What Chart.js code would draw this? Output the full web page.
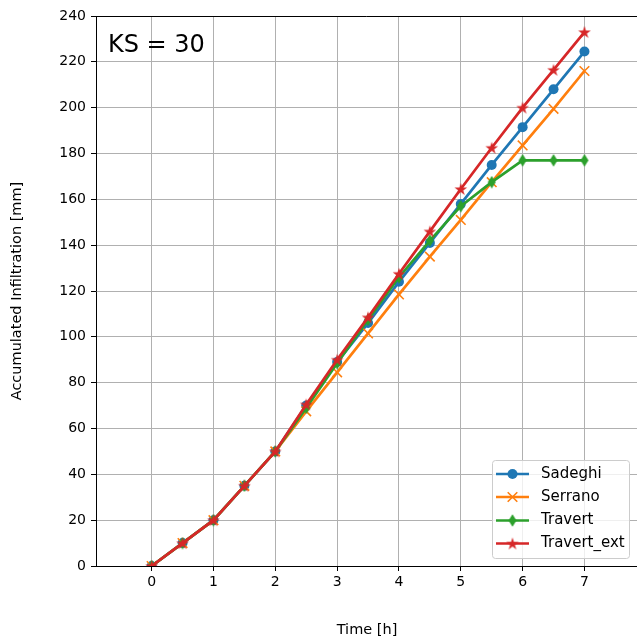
<!DOCTYPE html>
<html>
<head>
<meta charset="utf-8">
<script src="https://cdn.jsdelivr.net/npm/chart.js@4.4.1/dist/chart.umd.min.js"></script>
<style>
  html, body { margin: 0; padding: 0; background: #fff; }
  #c { display: block; }
</style>
</head>
<body>
<canvas id="c" width="637" height="639" style="width:637px;height:639px"></canvas>
<script>
// Datos
const timeH = [0, 0.5, 1, 1.5, 2, 2.5, 3, 3.5, 4, 4.5, 5, 5.5, 6, 6.5, 7];
const sadeghi = [0, 10, 20, 35, 50, 70, 89, 106, 124, 141, 158, 175, 191.5, 208, 224.5];
const serrano = [0, 10, 20, 35, 50, 67.5, 84.5, 101.5, 118.5, 135, 151, 167.5, 183.5, 199.5, 216];
const travert = [0, 10, 20, 35, 50, 69, 88.5, 107.5, 126, 142, 157, 167.5, 177, 177, 177];
const travertExt = [0, 10, 20, 35, 50, 70.5, 90, 108.5, 127.5, 146, 164.5, 182.5, 200, 216.5, 233];
const xTicks = [0, 1, 2, 3, 4, 5, 6, 7];
const seriesNames = ['Sadeghi', 'Serrano', 'Travert', 'Travert_ext'];

const FONT = '"DejaVu Sans", sans-serif';
const colors = ['#1f77b4', '#ff7f0e', '#2ca02c', '#d62728'];

// marcadores propios (estrella y diamante fino)
function starCanvas(color) {
  const c = document.createElement('canvas');
  c.width = 14; c.height = 14;
  const g = c.getContext('2d');
  const R = 6.6, r = R * 0.382;
  g.beginPath();
  for (let i = 0; i < 10; i++) {
    const a = -Math.PI / 2 + i * Math.PI / 5;
    const rr = i % 2 === 0 ? R : r;
    g.lineTo(7 + rr * Math.cos(a), 7.6 + rr * Math.sin(a));
  }
  g.closePath();
  g.fillStyle = color;
  g.fill();
  return c;
}

function diamondCanvas(color) {
  const c = document.createElement('canvas');
  c.width = 10; c.height = 13;
  const g = c.getContext('2d');
  g.beginPath();
  g.moveTo(5, 0.3);
  g.lineTo(9, 6.5);
  g.lineTo(5, 12.7);
  g.lineTo(1, 6.5);
  g.closePath();
  g.fillStyle = color;
  g.fill();
  return c;
}

const starImg = starCanvas(colors[3]);
const diamondImg = diamondCanvas(colors[2]);

function toPoints(ys) {
  return timeH.map((x, i) => ({ x: x, y: ys[i] }));
}

const datasets = [
  {
    label: seriesNames[0], data: toPoints(sadeghi), order: 4,
    borderColor: colors[0], backgroundColor: colors[0],
    pointStyle: 'circle', pointRadius: 5, pointBorderWidth: 0
  },
  {
    label: seriesNames[1], data: toPoints(serrano), order: 3,
    borderColor: colors[1], backgroundColor: colors[1],
    pointStyle: 'crossRot', pointRadius: 6.8, pointBorderWidth: 1.6
  },
  {
    label: seriesNames[2], data: toPoints(travert), order: 2,
    borderColor: colors[2], backgroundColor: colors[2],
    pointStyle: diamondImg, pointRadius: 5
  },
  {
    label: seriesNames[3], data: toPoints(travertExt), order: 1,
    borderColor: colors[3], backgroundColor: colors[3],
    pointStyle: starImg, pointRadius: 5
  }
];
datasets.forEach(d => {
  d.borderWidth = 2.7;
  d.tension = 0;
  d.fill = false;
  d.pointBorderColor = d.borderColor;
  d.pointBackgroundColor = d.backgroundColor;
});

// textos, borde superior y leyenda
const extras = {
  id: 'extras',
  afterDraw(chart) {
    const ctx = chart.ctx;
    const a = chart.chartArea;
    ctx.save();

    ctx.strokeStyle = '#000';
    ctx.lineWidth = 1;
    ctx.beginPath();
    ctx.moveTo(a.left, a.top + 0.5);
    ctx.lineTo(a.right, a.top + 0.5);
    ctx.stroke();

    ctx.fillStyle = '#000';
    ctx.font = '24px ' + FONT;
    ctx.textAlign = 'left';
    ctx.textBaseline = 'alphabetic';
    ctx.fillText('KS = 30', 108, 52);

    ctx.font = '14.5px ' + FONT;
    ctx.textAlign = 'center';
    ctx.textBaseline = 'middle';
    ctx.fillText('Time [h]', 367, 630);

    ctx.save();
    ctx.translate(17, (a.top + a.bottom) / 2);
    ctx.rotate(-Math.PI / 2);
    ctx.fillText('Accumulated Infiltration [mm]', 0, 0);
    ctx.restore();

    // leyenda
    const bx = 492, by = 460, bw = 137, bh = 98;
    ctx.beginPath();
    ctx.roundRect(bx + 0.5, by + 0.5, bw, bh, 3);
    ctx.fillStyle = 'rgba(255,255,255,0.8)';
    ctx.fill();
    ctx.strokeStyle = '#cccccc';
    ctx.lineWidth = 1;
    ctx.stroke();

    const rows = [474, 497, 520.5, 543.5];
    seriesNames.forEach((name, i) => {
      const y = rows[i];
      ctx.strokeStyle = colors[i];
      ctx.lineWidth = 2.7;
      ctx.beginPath();
      ctx.moveTo(496, y);
      ctx.lineTo(529, y);
      ctx.stroke();
      const mx = 512.5;
      if (i === 0) {
        ctx.fillStyle = colors[0];
        ctx.beginPath();
        ctx.arc(mx, y, 5, 0, Math.PI * 2);
        ctx.fill();
      } else if (i === 1) {
        ctx.lineWidth = 1.6;
        ctx.beginPath();
        ctx.moveTo(mx - 4.8, y - 4.8); ctx.lineTo(mx + 4.8, y + 4.8);
        ctx.moveTo(mx - 4.8, y + 4.8); ctx.lineTo(mx + 4.8, y - 4.8);
        ctx.stroke();
      } else {
        const img = i === 2 ? diamondImg : starImg;
        ctx.drawImage(img, mx - img.width / 2, y - img.height / 2);
      }
      ctx.fillStyle = '#000';
      ctx.font = '15px ' + FONT;
      ctx.textAlign = 'left';
      ctx.textBaseline = 'middle';
      ctx.fillText(name, 541, y);
    });

    ctx.restore();
  }
};

new Chart(document.getElementById('c'), {
  type: 'line',
  data: { datasets: datasets },
  options: {
    responsive: false,
    animation: false,
    layout: { autoPadding: false, padding: { top: 16, right: 0, left: 0, bottom: 0 } },
    plugins: {
      legend: { display: false },
      tooltip: { enabled: false },
      title: { display: false }
    },
    scales: {
      x: {
        type: 'linear',
        min: -0.9,
        max: 7.85,
        afterBuildTicks: (axis) => { axis.ticks = xTicks.map(v => ({ value: v })); },
        afterFit: (axis) => { axis.height = 73; axis.paddingRight = 0; axis.paddingLeft = 0; },
        grid: { color: '#b0b0b0', lineWidth: 1, tickColor: '#000', tickLength: 5 },
        border: { color: '#000', width: 1 },
        ticks: {
          color: '#000', font: { family: FONT, size: 14 }, padding: 3,
          maxRotation: 0, autoSkip: false
        }
      },
      y: {
        type: 'linear',
        min: 0,
        max: 240,
        afterFit: (axis) => { axis.width = 96; },
        grid: { color: '#b0b0b0', lineWidth: 1, tickColor: '#000', tickLength: 5 },
        border: { color: '#000', width: 1 },
        ticks: {
          stepSize: 20, color: '#000', font: { family: FONT, size: 14 }, padding: 5
        }
      }
    }
  },
  plugins: [extras]
});
</script>
</body>
</html>
